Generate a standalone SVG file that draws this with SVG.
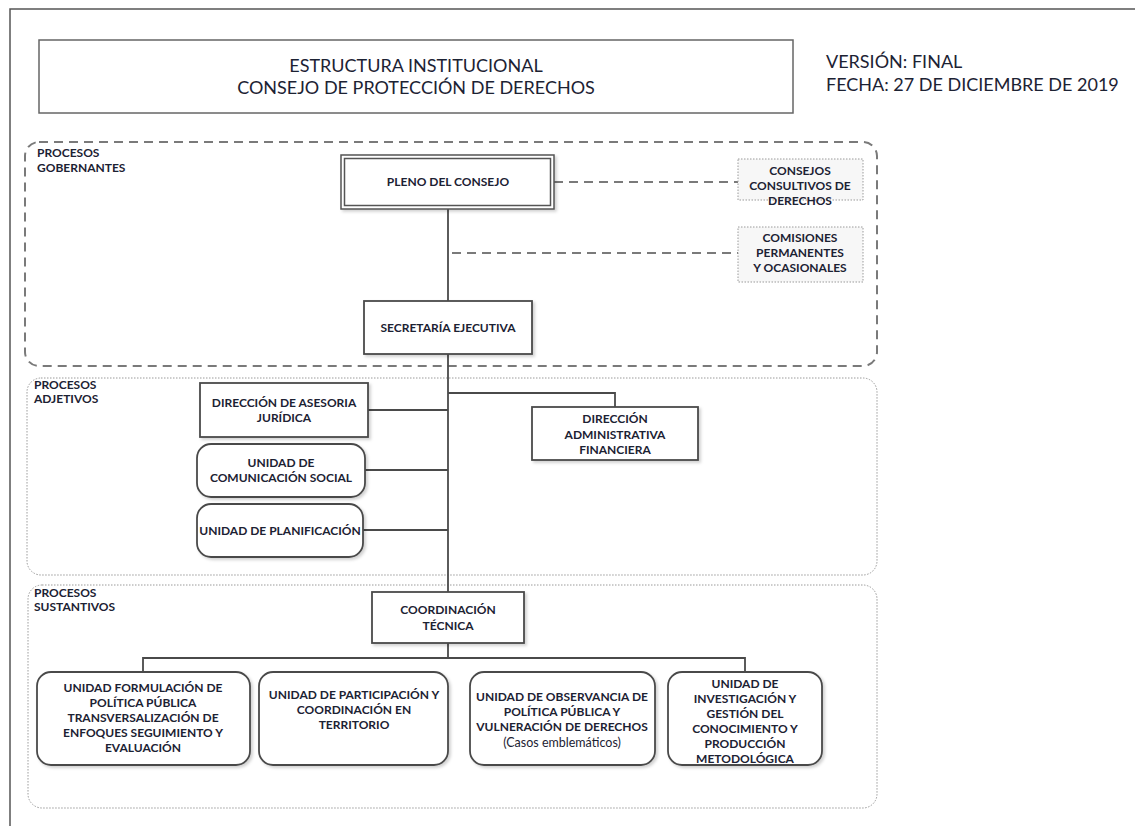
<svg xmlns="http://www.w3.org/2000/svg" width="1135" height="826" viewBox="0 0 1135 826">
<defs>
<filter id="sh" x="-10%" y="-10%" width="125%" height="130%">
<feDropShadow dx="2" dy="2" stdDeviation="1.5" flood-color="#000" flood-opacity="0.18"/>
</filter>
</defs>
<style>
.t{font-family:Lato,"Open Sans","Liberation Sans",sans-serif;fill:#1c2233;text-anchor:middle}
.b{font-weight:bold;font-size:12px}
.h{font-size:18px}
.lab{font-family:Lato,"Liberation Sans",sans-serif;font-weight:bold;font-size:12px;fill:#1c2233}
.box{fill:#fff;stroke:#4a4a4a;stroke-width:1.8;filter:url(#sh)}
.ln{stroke:#4a4a4a;stroke-width:1.8;fill:none}
.dash{stroke:#7a7a7a;stroke-width:2;fill:none;stroke-dasharray:9,6}
.dot{stroke:#9a9a9a;stroke-width:1;fill:none;stroke-dasharray:1.5,1.5}
</style>
<rect width="1135" height="826" fill="#fff"/>
<path d="M10,826 V9 H1135" fill="none" stroke="#555" stroke-width="1.5"/>

<g id="title">
<rect x="39" y="40" width="754" height="73" fill="#fff" stroke="#666" stroke-width="1.5"/>
<text class="t h" x="416" y="72">ESTRUCTURA INSTITUCIONAL</text>
<text class="t h" x="416" y="94">CONSEJO DE PROTECCIÓN DE DERECHOS</text>
</g>
<g id="version">
<text class="t h" x="826" y="68" style="text-anchor:start">VERSIÓN: FINAL</text>
<text class="t h" x="826" y="91" style="text-anchor:start">FECHA: 27 DE DICIEMBRE DE 2019</text>
</g>

<g id="zone-gobernantes">
<rect x="25" y="142" width="852" height="224" rx="14" class="dash" stroke-width="1.6"/>
<text class="lab" x="37" y="157">PROCESOS</text>
<text class="lab" x="37" y="172">GOBERNANTES</text>
</g>
<g id="zone-adjetivos">
<rect x="27" y="378" width="850" height="197" rx="14" class="dot"/>
<text class="lab" x="34" y="389">PROCESOS</text>
<text class="lab" x="34" y="403">ADJETIVOS</text>
</g>
<g id="zone-sustantivos">
<rect x="28" y="585" width="849" height="223" rx="14" class="dot"/>
<text class="lab" x="34" y="597">PROCESOS</text>
<text class="lab" x="34" y="611">SUSTANTIVOS</text>
</g>

<g id="connectors">
<path class="ln" d="M448,209 V301"/>
<path class="ln" d="M448,354 V592"/>
<path class="dash" d="M554,182 H738"/>
<path class="dash" d="M452,253 H738"/>
<path class="ln" d="M368,410 H448"/>
<path class="ln" d="M365,470 H448"/>
<path class="ln" d="M363,530 H448"/>
<path class="ln" d="M448,393 H615 V407"/>
<path class="ln" d="M448,643 V658"/>
<path class="ln" d="M143,672 V658 H745 V672"/>
</g>

<g id="pleno">
<rect x="341" y="155" width="213" height="54" fill="#fff" stroke="#555" stroke-width="1.5" filter="url(#sh)"/>
<rect x="344.5" y="158.5" width="206" height="47" fill="none" stroke="#555" stroke-width="1.5"/>
<text class="t b" x="448" y="186">PLENO DEL CONSEJO</text>
</g>
<g id="secretaria">
<rect x="364" y="301" width="168" height="53" class="box"/>
<text class="t b" x="448" y="332">SECRETARÍA EJECUTIVA</text>
</g>
<g id="consejos">
<rect x="738" y="159" width="125" height="41" fill="#f7f7f7" class="dot" style="fill:#f7f7f7"/>
<text class="t b" x="800" y="175">CONSEJOS</text>
<text class="t b" x="800" y="190">CONSULTIVOS DE</text>
<text class="t b" x="800" y="205">DERECHOS</text>
</g>
<g id="comisiones">
<rect x="738" y="227" width="125" height="55" class="dot" style="fill:#f7f7f7"/>
<text class="t b" x="800" y="242">COMISIONES</text>
<text class="t b" x="800" y="257">PERMANENTES</text>
<text class="t b" x="800" y="272">Y OCASIONALES</text>
</g>

<g id="juridica">
<rect x="200" y="383" width="168" height="54" class="box"/>
<text class="t b" x="284" y="407">DIRECCIÓN DE ASESORIA</text>
<text class="t b" x="284" y="422">JURÍDICA</text>
</g>
<g id="comunicacion">
<rect x="197" y="444" width="168" height="53" rx="14" class="box"/>
<text class="t b" x="281" y="467">UNIDAD DE</text>
<text class="t b" x="281" y="482">COMUNICACIÓN SOCIAL</text>
</g>
<g id="planificacion">
<rect x="197" y="504" width="166" height="53" rx="14" class="box"/>
<text class="t b" x="280" y="535">UNIDAD DE PLANIFICACIÓN</text>
</g>
<g id="administrativa">
<rect x="532" y="407" width="166" height="53" class="box"/>
<text class="t b" x="615" y="423">DIRECCIÓN</text>
<text class="t b" x="615" y="439">ADMINISTRATIVA</text>
<text class="t b" x="615" y="454">FINANCIERA</text>
</g>

<g id="coordinacion">
<rect x="372" y="592" width="152" height="51" class="box"/>
<text class="t b" x="448" y="614">COORDINACIÓN</text>
<text class="t b" x="448" y="630">TÉCNICA</text>
</g>
<g id="formulacion">
<rect x="37" y="672" width="213" height="93" rx="14" class="box"/>
<text class="t b" x="143" y="692">UNIDAD FORMULACIÓN DE</text>
<text class="t b" x="143" y="707">POLÍTICA PÚBLICA</text>
<text class="t b" x="143" y="722">TRANSVERSALIZACIÓN DE</text>
<text class="t b" x="143" y="737">ENFOQUES SEGUIMIENTO Y</text>
<text class="t b" x="143" y="752">EVALUACIÓN</text>
</g>
<g id="participacion">
<rect x="259" y="672" width="189" height="93" rx="14" class="box"/>
<text class="t b" x="354" y="699">UNIDAD DE PARTICIPACIÓN Y</text>
<text class="t b" x="354" y="714">COORDINACIÓN EN</text>
<text class="t b" x="354" y="729">TERRITORIO</text>
</g>
<g id="observancia">
<rect x="470" y="672" width="185" height="93" rx="14" class="box"/>
<text class="t b" x="562" y="701">UNIDAD DE OBSERVANCIA DE</text>
<text class="t b" x="562" y="716">POLÍTICA PÚBLICA Y</text>
<text class="t b" x="562" y="731">VULNERACIÓN DE DERECHOS</text>
<text class="t" x="562" y="747" font-size="12.5">(Casos emblemáticos)</text>
</g>
<g id="investigacion">
<rect x="668" y="672" width="154" height="93" rx="14" class="box"/>
<text class="t b" x="745" y="688">UNIDAD DE</text>
<text class="t b" x="745" y="703">INVESTIGACIÓN Y</text>
<text class="t b" x="745" y="718">GESTIÓN DEL</text>
<text class="t b" x="745" y="733">CONOCIMIENTO Y</text>
<text class="t b" x="745" y="748">PRODUCCIÓN</text>
<text class="t b" x="745" y="763">METODOLÓGICA</text>
</g>
</svg>
